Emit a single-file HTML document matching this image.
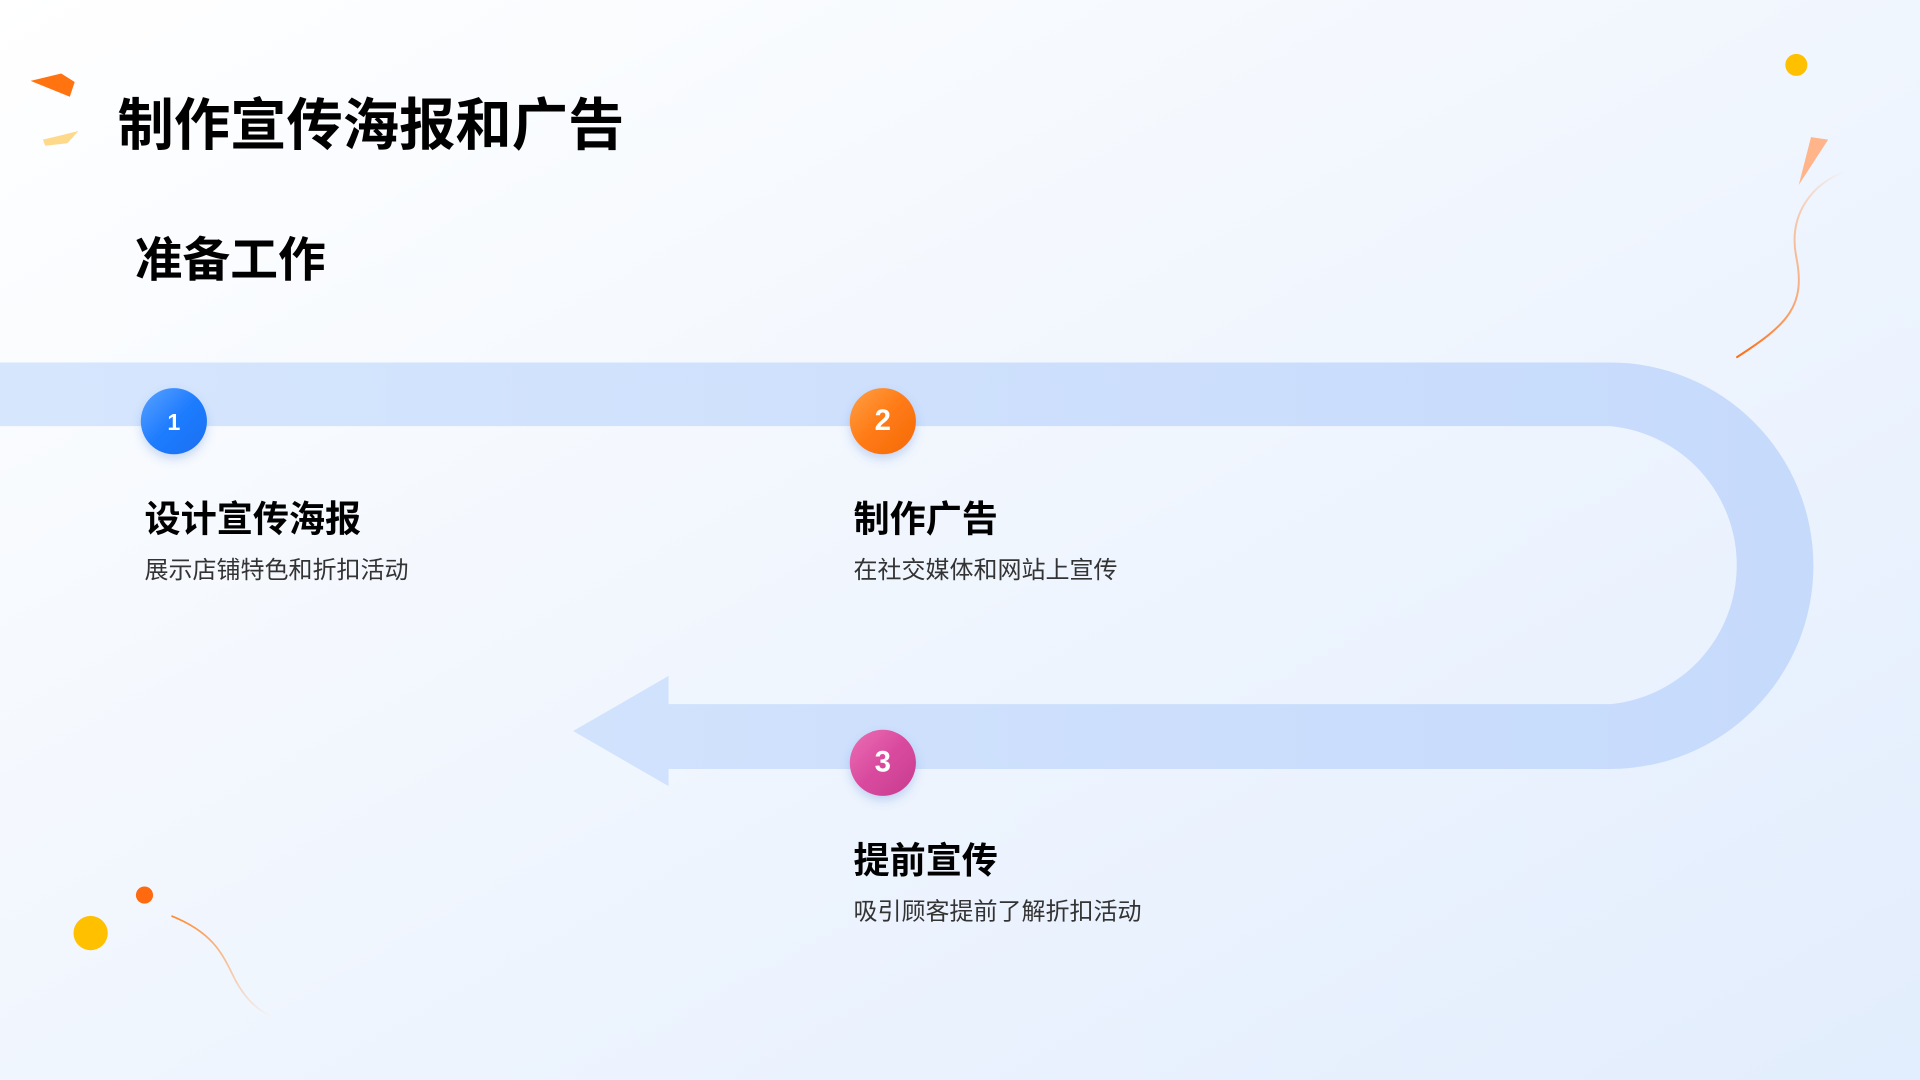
<!DOCTYPE html>
<html><head><meta charset="utf-8"><style>
html,body{margin:0;padding:0;width:1920px;height:1080px;overflow:hidden}
svg{display:block}
text{font-family:"Liberation Sans","Noto Sans CJK SC",sans-serif}
</style></head><body>
<svg width="1920" height="1080" viewBox="0 0 1568 882" xmlns="http://www.w3.org/2000/svg">
<defs>
<linearGradient id="bg" x1="0" y1="0" x2="1" y2="1">
<stop offset="0" stop-color="#ffffff"/><stop offset="1" stop-color="#e2edfd"/></linearGradient>
<linearGradient id="band" x1="0" y1="0" x2="1" y2="0">
<stop offset="0" stop-color="#d6e6fd"/><stop offset="1" stop-color="#c6dafc"/></linearGradient>
<linearGradient id="c1" x1="0" y1="0" x2="1" y2="1"><stop offset="0" stop-color="#5aa2ff"/><stop offset="0.5" stop-color="#1f7cff"/><stop offset="1" stop-color="#1a6fef"/></linearGradient>
<linearGradient id="c2" x1="0" y1="0" x2="1" y2="1"><stop offset="0" stop-color="#ffa046"/><stop offset="0.5" stop-color="#ff7a14"/><stop offset="1" stop-color="#f36a0c"/></linearGradient>
<linearGradient id="c3" x1="0" y1="0" x2="1" y2="1"><stop offset="0" stop-color="#ec6fb5"/><stop offset="0.5" stop-color="#d94a9e"/><stop offset="1" stop-color="#c63c8f"/></linearGradient>
<linearGradient id="l1" x1="1" y1="0" x2="0" y2="1"><stop offset="0" stop-color="#ff7a1a" stop-opacity="0"/><stop offset="1" stop-color="#ff6a10"/></linearGradient>
<linearGradient id="l2" x1="0" y1="0" x2="1" y2="1"><stop offset="0" stop-color="#ff8a30"/><stop offset="1" stop-color="#ff8a30" stop-opacity="0"/></linearGradient>
<filter id="sh" x="-50%" y="-50%" width="200%" height="200%"><feDropShadow dx="0" dy="4" stdDeviation="4" flood-color="#3a6fd0" flood-opacity="0.25"/></filter>
</defs>
<rect width="1568" height="882" fill="url(#bg)"/>
<path d="M0 296 H1315 A166 166 0 0 1 1315 628 H546 V642 L468 597 L546 552 V575 H1315 A114 114 0 0 0 1315 348 H0 Z" fill="url(#band)"/>
<polygon points="25,66 50,60 61,67 57,79" fill="#ff7410"/>
<polygon points="35,114 48,111 64,107 55,117 37,119" fill="#ffd98a"/>
<circle cx="1467" cy="53" r="9" fill="#ffc000"/>
<polygon points="1479,112 1493,114 1469,151" fill="#ffb48a"/>
<path d="M1507 140 C1480 150 1460 175 1467 210 C1475 250 1460 265 1418 292" fill="none" stroke="url(#l1)" stroke-width="1.6"/>
<circle cx="74" cy="762" r="14" fill="#ffc000"/>
<circle cx="118" cy="731" r="7" fill="#ff6a10"/>
<path d="M140 748 C175 762 182 780 192 800 C200 815 210 825 222 830" fill="none" stroke="url(#l2)" stroke-width="1.4"/>
<text x="96" y="118" font-size="46" font-weight="bold" fill="#000">制作宣传海报和广告</text>
<text x="110" y="226" font-size="39" font-weight="bold" fill="#000">准备工作</text>
<circle cx="142" cy="344" r="27" fill="url(#c1)" filter="url(#sh)"/>
<text x="142" y="351" font-size="19" font-weight="bold" fill="#fff" text-anchor="middle">1</text>
<circle cx="721" cy="344" r="27" fill="url(#c2)" filter="url(#sh)"/>
<text x="721" y="351" font-size="24" font-weight="bold" fill="#fff" text-anchor="middle">2</text>
<circle cx="721" cy="623" r="27" fill="url(#c3)" filter="url(#sh)"/>
<text x="721" y="630" font-size="24" font-weight="bold" fill="#fff" text-anchor="middle">3</text>
<text x="118" y="434" font-size="29.5" font-weight="bold" fill="#000">设计宣传海报</text>
<text x="118" y="472" font-size="19.6" fill="#333">展示店铺特色和折扣活动</text>
<text x="697" y="434" font-size="29.5" font-weight="bold" fill="#000">制作广告</text>
<text x="697" y="472" font-size="19.6" fill="#333">在社交媒体和网站上宣传</text>
<text x="697" y="713" font-size="29.5" font-weight="bold" fill="#000">提前宣传</text>
<text x="697" y="751" font-size="19.6" fill="#333">吸引顾客提前了解折扣活动</text>
</svg>
</body></html>
